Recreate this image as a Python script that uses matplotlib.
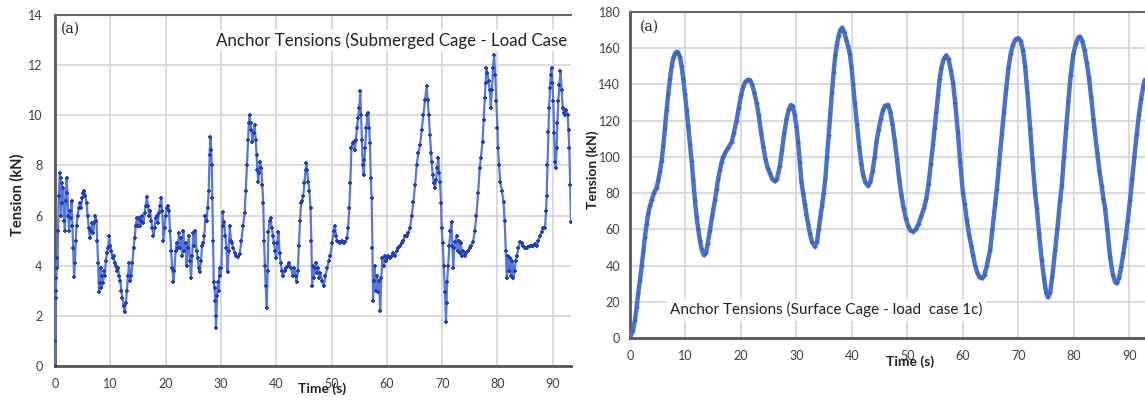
import matplotlib
matplotlib.use("Agg")
import matplotlib.pyplot as plt

# ---------------- data: left panel (submerged cage) ----------------
time_sub = [0.0, 0.05, 0.1, 0.15, 0.25, 0.35, 0.45, 0.55, 0.7, 0.85, 1.0, 1.1, 1.2, 1.35, 1.5, 1.65, 1.8, 1.95,
            2.1, 2.25, 2.4, 2.55, 2.7, 2.85, 3.0, 3.15, 3.3, 3.45, 3.6, 3.75, 3.9, 4.1, 4.3, 4.5, 4.7, 4.9,
            5.1, 5.3, 5.5, 5.7, 5.9, 6.1, 6.3, 6.5, 6.7, 6.9, 7.1, 7.3, 7.5, 7.65, 7.8, 7.95, 8.1, 8.25,
            8.4, 8.55, 8.7, 8.85, 9.0, 9.2, 9.4, 9.6, 9.8, 10.0, 10.2, 10.4, 10.6, 10.8, 11.0, 11.2, 11.4,
            11.6, 11.8, 12.0, 12.2, 12.4, 12.6, 12.8, 13.0, 13.2, 13.4, 13.6, 13.8, 14.0, 14.2, 14.4, 14.6,
            14.8, 15.0, 15.2, 15.4, 15.6, 15.8, 16.0, 16.2, 16.4, 16.6, 16.8, 17.0, 17.2, 17.4, 17.6, 17.8,
            18.0, 18.2, 18.4, 18.6, 18.8, 19.0, 19.2, 19.4, 19.6, 19.8, 20.0, 20.2, 20.4, 20.6, 20.8, 21.0,
            21.2, 21.4, 21.6, 21.8, 22.0, 22.2, 22.4, 22.6, 22.8, 23.0, 23.2, 23.4, 23.6, 23.8, 24.0, 24.2,
            24.4, 24.6, 24.8, 25.0, 25.2, 25.4, 25.6, 25.8, 26.0, 26.2, 26.4, 26.6, 26.8, 27.0, 27.2, 27.4,
            27.6, 27.8, 27.95, 28.1, 28.25, 28.35, 28.45, 28.6, 28.7, 28.85, 29.0, 29.1, 29.2, 29.3, 29.45,
            29.6, 29.75, 29.9, 30.1, 30.3, 30.45, 30.6, 30.8, 31.0, 31.2, 31.4, 31.6, 31.8, 32.0, 32.2,
            32.5, 32.8, 33.1, 33.4, 33.7, 34.0, 34.3, 34.5, 34.7, 34.9, 35.05, 35.2, 35.35, 35.5, 35.7,
            35.9, 36.1, 36.3, 36.45, 36.6, 36.75, 36.9, 37.05, 37.3, 37.5, 37.65, 37.8, 37.95, 38.1, 38.3,
            38.45, 38.6, 38.8, 39.0, 39.2, 39.4, 39.6, 39.8, 40.0, 40.2, 40.4, 40.6, 40.8, 41.0, 41.2, 41.5,
            41.8, 42.1, 42.4, 42.7, 43.0, 43.3, 43.5, 43.7, 43.9, 44.1, 44.3, 44.5, 44.7, 44.9, 45.1, 45.3,
            45.45, 45.6, 45.8, 46.0, 46.2, 46.35, 46.5, 46.6, 46.8, 47.0, 47.2, 47.4, 47.6, 47.8, 48.0,
            48.3, 48.6, 48.9, 49.2, 49.5, 49.8, 50.1, 50.4, 50.6, 50.8, 51.0, 51.3, 51.6, 51.9, 52.2, 52.5,
            52.8, 53.0, 53.2, 53.4, 53.6, 53.8, 54.0, 54.2, 54.4, 54.6, 54.8, 55.0, 55.2, 55.35, 55.5,
            55.65, 55.8, 55.95, 56.1, 56.3, 56.5, 56.65, 56.8, 56.95, 57.1, 57.25, 57.4, 57.5, 57.6, 57.8,
            58.0, 58.2, 58.4, 58.6, 58.8, 59.0, 59.2, 59.4, 59.6, 59.8, 60.0, 60.3, 60.6, 60.9, 61.2, 61.5,
            61.8, 62.1, 62.4, 62.7, 63.0, 63.3, 63.6, 63.9, 64.2, 64.5, 64.8, 65.1, 65.4, 65.7, 66.0, 66.3,
            66.6, 66.9, 67.2, 67.4, 67.6, 67.8, 68.0, 68.1, 68.3, 68.5, 68.7, 68.9, 69.1, 69.3, 69.5, 69.6,
            69.8, 69.9, 70.1, 70.3, 70.5, 70.7, 70.8, 70.9, 71.1, 71.3, 71.5, 71.7, 71.85, 72.0, 72.2, 72.4,
            72.6, 72.8, 73.0, 73.2, 73.4, 73.6, 73.8, 74.1, 74.4, 74.7, 75.0, 75.3, 75.6, 75.9, 76.2, 76.5,
            76.8, 77.0, 77.3, 77.5, 77.7, 77.85, 78.0, 78.2, 78.4, 78.6, 78.8, 79.0, 79.2, 79.4, 79.6, 79.8,
            80.0, 80.1, 80.3, 80.5, 80.8, 81.1, 81.3, 81.5, 81.7, 81.9, 82.1, 82.3, 82.5, 82.7, 82.9, 83.1,
            83.3, 83.5, 83.8, 84.1, 84.4, 84.7, 85.0, 85.3, 85.6, 85.9, 86.2, 86.5, 86.8, 87.1, 87.4, 87.7,
            88.0, 88.3, 88.6, 88.8, 88.9, 89.05, 89.2, 89.35, 89.5, 89.65, 89.8, 89.95, 90.1, 90.25, 90.4,
            90.55, 90.7, 90.85, 91.0, 91.2, 91.4, 91.6, 91.8, 92.0, 92.2, 92.45, 92.7, 92.85, 93.0, 93.15,
            93.3]
tension_sub = [0.0, 1.0, 2.7, 3.0, 3.5, 4.3, 3.9, 5.4, 6.8, 7.7, 7.5, 6.0, 7.3, 6.5, 7.1, 5.8, 5.4, 6.6,
               7.5, 6.9, 6.0, 5.4, 6.2, 5.9, 6.6, 5.6, 4.7, 3.55, 4.1, 5.0, 5.6, 6.0, 6.3, 6.5, 6.3, 6.7,
               6.9, 7.0, 6.8, 6.5, 6.0, 5.5, 5.1, 5.4, 5.7, 5.3, 5.7, 6.0, 5.8, 5.0, 4.1, 2.95, 3.3, 3.9,
               3.1, 3.6, 3.3, 3.8, 3.6, 4.2, 4.5, 4.7, 5.2, 4.8, 4.6, 4.3, 4.4, 4.1, 4.0, 3.8, 3.9,
               3.6, 3.4, 3.0, 2.7, 2.4, 2.16, 2.5, 3.0, 3.6, 4.1, 3.4, 3.6, 4.1, 4.7, 5.1, 5.6,
               5.9, 5.6, 5.9, 5.6, 5.8, 6.0, 5.7, 6.1, 6.4, 6.75, 6.4, 6.0, 6.2, 5.8, 5.5, 5.2,
               5.5, 5.9, 6.0, 5.7, 6.1, 6.4, 6.7, 6.2, 5.0, 5.5, 6.0, 6.3, 6.4, 6.2, 5.4, 4.6,
               3.9, 3.35, 3.8, 4.6, 4.9, 4.7, 5.3, 4.7, 5.1, 4.4, 5.4, 4.6, 4.9, 4.0, 4.7, 5.2,
               4.2, 3.5, 4.4, 5.3, 4.8, 5.4, 4.6, 4.3, 3.9, 3.75, 4.2, 4.8, 4.9, 5.2, 6.0, 5.8,
               6.3, 7.0, 8.4, 9.15, 8.6, 8.0, 6.7, 5.0, 3.35, 3.1, 2.6, 1.5, 2.0, 2.8, 3.35,
               3.0, 3.9, 3.6, 3.9, 6.15, 5.6, 5.75, 5.2, 4.7, 3.75, 4.6, 5.6, 5.0, 4.9, 4.7,
               4.5, 4.4, 4.35, 4.45, 5.0, 5.6, 6.1, 7.0, 8.0, 9.0, 9.7, 10.0, 9.7, 9.4, 8.95,
               9.3, 9.6, 9.0, 8.4, 7.8, 7.35, 7.7, 8.15, 7.9, 7.2, 6.5, 5.0, 4.0, 3.2, 2.3,
               3.8, 5.35, 5.8, 5.9, 5.5, 5.2, 4.9, 4.6, 4.3, 4.9, 5.35, 4.5, 4.1, 3.8, 3.6, 3.8,
               3.9, 4.0, 4.1, 3.9, 3.6, 3.9, 3.6, 3.35, 3.8, 4.8, 5.8, 6.5, 6.6, 6.8, 7.3, 7.8,
               8.1, 7.8, 7.35, 7.0, 6.3, 5.0, 3.2, 4.0, 3.5, 3.9, 4.1, 3.7, 3.9, 3.5, 3.7,
               3.4, 3.2, 3.6, 3.9, 4.2, 4.4, 4.9, 5.4, 5.6, 5.2, 5.0, 4.95, 4.9, 5.0, 4.9, 4.95,
               5.1, 5.5, 6.3, 7.3, 8.7, 8.9, 8.95, 8.6, 9.0, 9.5, 9.9, 10.3, 10.95, 10.0, 9.0,
               8.0, 7.6, 8.2, 8.7, 9.5, 10.0, 10.1, 9.5, 8.9, 7.5, 6.7, 4.7, 2.6, 3.4, 4.0,
               3.0, 3.6, 2.95, 3.4, 2.2, 3.5, 4.3, 4.0, 4.4, 4.2, 4.3, 4.4, 4.3, 4.4, 4.5, 4.4,
               4.6, 4.7, 4.8, 4.9, 5.0, 5.2, 5.2, 5.3, 5.5, 6.0, 6.55, 7.2, 8.0, 8.5, 8.8, 9.4,
               10.0, 10.6, 11.15, 10.6, 10.0, 9.2, 8.5, 8.15, 7.6, 7.3, 7.1, 7.4, 7.9, 8.3, 7.7, 7.35,
               6.5, 5.5, 4.9, 4.0, 2.95, 1.76, 2.5, 3.35, 4.0, 4.8, 5.4, 5.75, 4.8, 3.9, 4.7, 4.95,
               5.2, 4.6, 5.0, 4.5, 4.9, 4.4, 4.6, 4.4, 4.5, 4.6, 4.7, 4.8, 4.95, 5.4, 6.0, 6.9,
               7.9, 8.3, 8.95, 9.8, 10.7, 11.3, 11.9, 11.7, 11.35, 11.0, 10.3, 11.0, 11.9, 12.4, 11.6, 10.55,
               9.5, 8.7, 8.0, 7.35, 7.0, 6.55, 5.8, 4.6, 3.5, 4.4, 3.8, 4.3, 3.6, 4.2, 3.5, 3.8,
               4.2, 4.4, 4.7, 4.95, 4.9, 4.8, 4.7, 4.7, 4.75, 4.8, 4.8, 4.8, 4.85, 4.8, 5.0, 5.2,
               5.35, 5.5, 5.5, 6.2, 6.8, 8.0, 9.35, 10.3, 11.1, 11.6, 11.9, 11.3, 10.55, 9.3, 8.15,
               7.9, 8.7, 9.7, 10.55, 11.2, 11.75, 11.0, 10.3, 10.1, 10.0, 10.2, 10.0, 9.4, 8.7, 7.2,
               5.75]

# ---------------- data: right panel (surface cage) ----------------
time_surf = [0, 0.5, 0.9, 1.2, 1.5, 1.8, 2.1, 2.4, 2.7, 3.0, 3.3, 3.6, 3.9, 4.3, 4.8, 5.1, 5.4, 5.7, 6.0,
             6.3, 6.6, 6.9, 7.2, 7.5, 7.8, 8.1, 8.4, 8.7, 9.0, 9.3, 9.6, 9.9, 10.2, 10.5, 10.8, 11.1,
             11.4, 11.7, 12.0, 12.3, 12.6, 12.9, 13.3, 13.7, 14.0, 14.4, 14.8, 15.3, 15.6, 15.9, 16.2,
             16.5, 16.8, 17.2, 17.7, 18.3, 18.7, 19.2, 19.6, 20.0, 20.4, 20.8, 21.2, 21.6, 22.0, 22.4,
             22.8, 23.2, 23.6, 24.0, 24.4, 24.8, 25.2, 25.6, 26.1, 26.5, 27.0, 27.4, 27.8, 28.2, 28.6,
             29.0, 29.3, 29.7, 30.0, 30.3, 30.6, 30.9, 31.2, 31.5, 31.8, 32.1, 32.4, 32.8, 33.3, 33.7,
             34.0, 34.3, 34.6, 34.9, 35.2, 35.5, 35.8, 36.1, 36.4, 36.7, 37.0, 37.3, 37.6, 37.9, 38.25,
             38.6, 39.0, 39.3, 39.6, 39.9, 40.2, 40.5, 40.9, 41.3, 41.7, 42.0, 42.4, 42.9, 43.3, 43.7,
             44.1, 44.4, 44.8, 45.2, 45.6, 46.0, 46.5, 46.9, 47.3, 47.7, 48.1, 48.5, 48.9, 49.3, 49.7,
             50.1, 50.5, 51.0, 51.5, 52.0, 52.5, 53.0, 53.4, 53.8, 54.2, 54.6, 54.9, 55.2, 55.5, 55.8,
             56.1, 56.5, 57.0, 57.4, 57.8, 58.2, 58.6, 59.1, 59.5, 60.0, 60.3, 60.7, 61.1, 61.5, 61.8,
             62.2, 62.6, 63.0, 63.5, 63.9, 64.3, 64.9, 65.3, 65.8, 66.1, 66.5, 67.0, 67.4, 67.8, 68.2,
             68.6, 69.0, 69.5, 70.0, 70.4, 70.8, 71.2, 71.6, 72.1, 72.5, 73.0, 73.3, 73.7, 74.2, 74.6,
             75.0, 75.3, 75.7, 76.1, 76.6, 77.0, 77.5, 77.8, 78.2, 78.6, 79.0, 79.4, 79.9, 80.4, 80.8,
             81.1, 81.5, 81.9, 82.3, 82.7, 83.1, 83.5, 83.8, 84.2, 84.6, 85.0, 85.3, 85.6, 86.0, 86.5,
             87.0, 87.4, 87.7, 88.1, 88.5, 88.9, 89.3, 89.7, 90.1, 90.5, 90.9, 91.3, 91.7, 92.1, 92.5,
             92.8]
tension_surf = [0, 4, 10, 17, 25, 32, 39.5, 48, 56, 63, 69, 73, 76, 80, 83, 87, 92, 98, 106,
                116, 126, 135, 143, 150, 154.5, 157, 158, 157.5, 155, 150, 143, 135, 126, 117, 107, 98,
                87, 76, 67, 60, 54, 49, 45.8, 47, 52, 59.6, 67, 76, 82, 88, 92.7,
                97, 100, 102.5, 105, 108, 113, 120, 127, 134, 138.8, 141.5, 142.5, 142.5, 140, 135.5,
                130, 123, 114, 106, 99, 94, 91, 88, 86.5, 88, 95, 104, 113, 120.7, 126,
                128.7, 128, 123, 116.6, 108, 97, 86, 80, 74, 68, 63, 58, 53, 50.5, 53,
                60, 67, 73, 80, 88, 100, 112, 124, 136, 147, 156, 162.5, 167, 170, 171.4,
                169, 164.5, 161, 157, 150, 140, 130, 118, 106, 96, 90, 86, 84, 86, 92,
                100, 108, 115, 121, 126, 128.3, 128.7, 125, 118, 109, 99, 88, 79, 72, 66,
                62, 59.5, 58.7, 60, 63, 67.5, 72, 77, 85, 96, 107, 116, 125, 134, 143,
                149, 154, 156, 154, 148, 141, 130, 113, 97, 80, 74, 65, 57, 51, 46,
                40, 36, 33.5, 33, 35, 40, 48.6, 60, 74, 82, 96, 112.5, 125, 138, 149,
                157, 162, 165, 165.5, 164, 159, 150, 136, 116, 99, 80, 72, 58, 43, 33,
                25, 22.5, 25, 34, 48.6, 60, 76, 84, 100, 116, 131, 145, 157, 163, 166,
                166.4, 164, 159, 152, 144, 133, 121, 112.5, 102, 92, 84, 77, 72, 60, 45,
                35, 31, 30.2, 33, 39, 46.7, 55, 65, 76, 88, 100, 112.5, 123, 132, 139,
                142.6]

xticks_vals = [0, 10, 20, 30, 40, 50, 60, 70, 80, 90]
yticks_sub = [0, 2, 4, 6, 8, 10, 12, 14]
yticks_surf = [0, 20, 40, 60, 80, 100, 120, 140, 160, 180]

title_sub = "Anchor Tensions (Submerged Cage - Load Case"
title_surf = "Anchor Tensions (Surface Cage - load  case 1c)"

plt.rcParams['font.family'] = ['Lato', 'DejaVu Sans']

W, H = 1145, 400
fig = plt.figure(figsize=(W / 100, H / 100), dpi=100)

def px_axes(x0, y0, x1, y1):
    return fig.add_axes([x0 / W, 1 - y1 / H, (x1 - x0) / W, (y1 - y0) / H])

ax1 = px_axes(55, 15, 571, 366)
ax2 = px_axes(630, 12, 1145, 338)

tick_color = '#404040'
grid_color = '#d4d4d4'

for ax in (ax1, ax2):
    ax.set_axisbelow(True)
    ax.grid(True, color=grid_color, lw=1.2)
    ax.tick_params(length=0, labelsize=9, colors=tick_color)
    ax.set_xticks(xticks_vals)
    for s in ('left', 'bottom'):
        ax.spines[s].set_color('#555555')
        ax.spines[s].set_linewidth(2.0)
    ax.spines['top'].set_color('#666666')
    ax.spines['top'].set_linewidth(1.5)
    ax.spines['right'].set_visible(False)

# left panel
ax1.plot(time_sub, tension_sub, color='#5878d6', lw=1.6, marker='+', ms=3.5, mew=1.3,
         mec='#1f3cbf', mfc='#1f3cbf', zorder=3)
ax1.set_xlim(0, 93.3)
ax1.set_ylim(0, 14)
ax1.set_yticks(yticks_sub)
ax1.tick_params(axis='x', pad=9)
ax1.tick_params(axis='y', pad=9)
ax1.text(0.012, 0.962, "(a)", transform=ax1.transAxes, family='DejaVu Serif', fontsize=10,
         va='center', ha='left', color='#222222')
ax1.text(0.312, 0.928, title_sub, transform=ax1.transAxes, fontsize=12.2, va='center', ha='left',
         color='#222222', clip_on=True, zorder=2.5,
         bbox=dict(facecolor='white', edgecolor='none', pad=1.5))
ax1.set_ylabel("Tension (kN)", fontsize=10.5, fontweight='bold', color='#222222')
ax1.yaxis.set_label_coords(-(55 - 25) / 516, (366 - 195) / 351)
ax1.set_xlabel("Time (s)", fontsize=10, fontweight='bold', color='#222222')
ax1.xaxis.set_label_coords((322 - 55) / 516, -(382 - 366) / 351)

# right panel
ax2.plot(time_surf, tension_surf, color='#4a72c8', lw=3.2, marker='+', ms=3.5, mew=1.0,
         mec='#3c63c2', zorder=3, solid_capstyle='round')
ax2.set_xlim(0, 92.8)
ax2.set_ylim(0, 180)
ax2.set_yticks(yticks_surf)
ax2.tick_params(axis='x', pad=9)
ax2.tick_params(axis='y', pad=7)
ax2.text(0.02, 0.955, "(a)", transform=ax2.transAxes, family='DejaVu Serif', fontsize=10,
         va='center', ha='left', color='#222222')
ax2.text(0.078, 0.086, title_surf, transform=ax2.transAxes, fontsize=11.0, va='center', ha='left',
         color='#222222', zorder=2.5,
         bbox=dict(facecolor='white', edgecolor='none', pad=2.5))
ax2.set_ylabel("Tension (kN)", fontsize=10, fontweight='bold', color='#222222')
ax2.yaxis.set_label_coords(-(630 - 599) / 515, (338 - 170) / 326)
ax2.set_xlabel("Time (s)", fontsize=10, fontweight='bold', color='#222222')
ax2.xaxis.set_label_coords((910 - 630) / 515, -(355 - 338) / 326)

fig.savefig("out.png", dpi=100)
